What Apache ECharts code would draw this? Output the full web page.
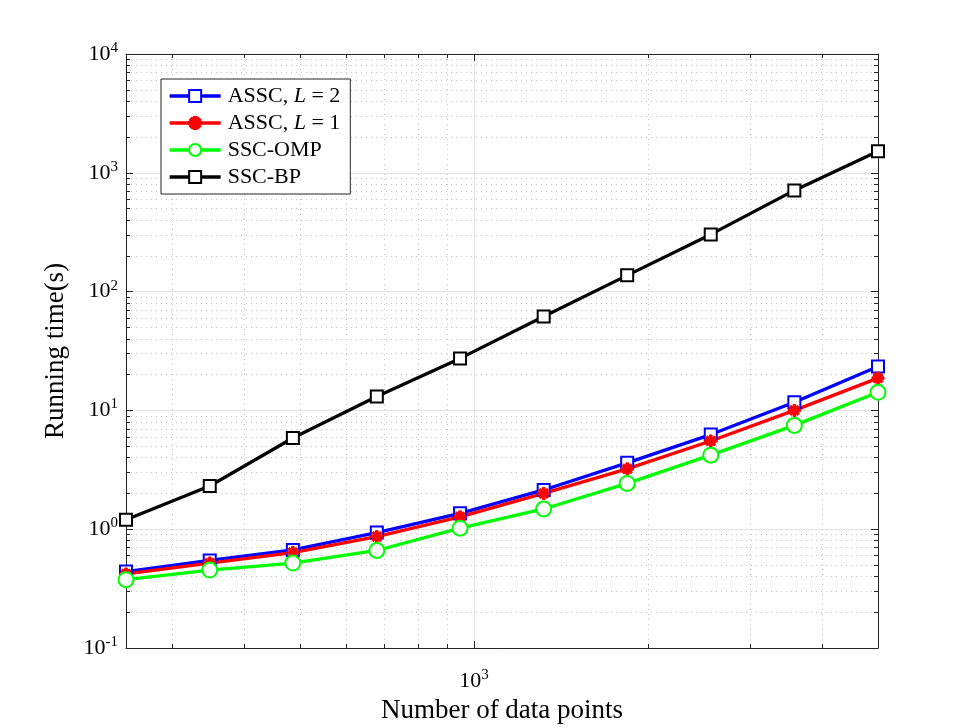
<!DOCTYPE html>
<html>
<head>
<meta charset="utf-8">
<script src="https://cdn.jsdelivr.net/npm/echarts@6/dist/echarts.min.js"></script>
<style>
  html, body { margin: 0; padding: 0; background: #fff; }
  #chart { width: 970px; height: 728px; }
</style>
</head>
<body>
<div id="chart"></div>
<script>
  const numPoints = [250, 349, 486, 679, 946, 1320, 1841, 2568, 3583, 5000];
  const asscL2 = [0.44, 0.546, 0.669, 0.937, 1.36, 2.14, 3.62, 6.26, 11.7, 23.4];
  const asscL1 = [0.42, 0.519, 0.636, 0.867, 1.27, 2.0, 3.22, 5.53, 10.0, 18.7];
  const sscOmp = [0.376, 0.453, 0.519, 0.662, 1.02, 1.48, 2.43, 4.2, 7.48, 14.2];
  const sscBp = [1.2, 2.31, 5.86, 13.1, 27.4, 61.6, 137, 303, 711, 1521];
  const seriesNames = ['ASSC, L = 2', 'ASSC, L = 1', 'SSC-OMP', 'SSC-BP'];

  const FONT = 'Liberation Serif';
  const AXIS_COLOR = '#262626';

  // 8-armed asterisk, like matlab's '*' marker
  const ASTERISK = 'path://M0 3.9L10 3.9L10 6.1L0 6.1Z M3.9 0L6.1 0L6.1 10L3.9 10Z ' +
    'M2.28 0.72L9.28 7.72L7.72 9.28L0.72 2.28Z M9.28 2.28L2.28 9.28L0.72 7.72L7.72 0.72Z';

  const pairs = ys => numPoints.map((x, i) => [x, ys[i]]);

  // 10^n as base + superscript
  const powLabel = v => {
    const e = Math.log10(v);
    if (Math.abs(e - Math.round(e)) > 1e-6) return '';
    return '{b|10}{s|' + Math.round(e) + '}';
  };
  const powRich = {
    b: { fontFamily: FONT, fontSize: 22, color: '#000' },
    s: { fontFamily: FONT, fontSize: 15, color: '#000', padding: [0, 0, 12, 0] }
  };

  const logAxis = (extra) => Object.assign({
    type: 'log',
    logBase: 10,
    axisLine: { show: true, onZero: false, lineStyle: { color: AXIS_COLOR, width: 1 } },
    axisTick: { show: true, inside: true, length: 7, lineStyle: { color: AXIS_COLOR } },
    minorTick: { show: true, splitNumber: 9, length: 4, lineStyle: { color: AXIS_COLOR } },
    splitLine: { show: true, lineStyle: { color: '#e4e4e4', width: 1 } },
    minorSplitLine: { show: true, lineStyle: { color: '#c4c4c4', width: 1, type: [1, 4] } },
    axisLabel: { show: true, formatter: powLabel, rich: powRich, color: '#000' }
  }, extra);

  const mirror = (base) => Object.assign({}, base, {
    splitLine: { show: false },
    minorSplitLine: { show: false },
    axisLabel: { show: false },
    name: ''
  });

  const xMain = logAxis({
    min: 250, max: 5000, position: 'bottom',
    name: 'Number of data points',
    nameLocation: 'middle',
    nameGap: 42,
    nameTextStyle: { fontFamily: FONT, fontSize: 27, color: '#000' },
    axisLabel: { show: true, formatter: powLabel, rich: powRich, color: '#000', margin: 20 }
  });
  const yMain = logAxis({
    min: 0.1, max: 10000, position: 'left',
    name: 'Running time(s)',
    nameLocation: 'middle',
    nameGap: 57,
    nameTextStyle: { fontFamily: FONT, fontSize: 27, color: '#000' },
    axisLabel: { show: true, formatter: powLabel, rich: powRich, color: '#000', margin: 8 }
  });

  const mkSeries = (name, ys, color, symbol, size, bw) => ({
    name: name,
    type: 'line',
    data: pairs(ys),
    symbol: symbol,
    symbolSize: size,
    clip: false,
    lineStyle: { color: color, width: 3.3 },
    itemStyle: { color: color, borderColor: color, borderWidth: bw },
    emphasis: { disabled: true },
    animation: false
  });

  const chart = echarts.init(document.getElementById('chart'));
  chart.setOption({
    backgroundColor: '#fff',
    animation: false,
    grid: { left: 126, top: 54, width: 752, height: 594, containLabel: false, outerBoundsMode: 'none' },
    legend: {
      orient: 'vertical',
      left: 161,
      top: 79,
      padding: [6, 10, 6, 7],
      itemGap: 5,
      itemWidth: 51,
      itemHeight: 15,
      backgroundColor: '#fff',
      borderColor: AXIS_COLOR,
      borderWidth: 1,
      borderRadius: 0,
      lineStyle: { width: 3.3 },
      data: seriesNames,
      formatter: n => n.replace('L =', '{i|L} ='),
      textStyle: {
        fontFamily: FONT, fontSize: 22, color: '#000', lineHeight: 21, padding: [0, 0, 0, 2],
        rich: { i: { fontFamily: FONT, fontSize: 22, fontStyle: 'italic', color: '#000', lineHeight: 21 } }
      }
    },
    xAxis: [xMain, mirror(Object.assign({}, xMain, { position: 'top' }))],
    yAxis: [yMain, mirror(Object.assign({}, yMain, { position: 'right' }))],
    series: [
      mkSeries(seriesNames[0], asscL2, '#0000ff', 'emptyRect', 12, 2.7),
      mkSeries(seriesNames[1], asscL1, '#ff0000', ASTERISK, 12, 1),
      mkSeries(seriesNames[2], sscOmp, '#00ff00', 'emptyCircle', 15, 2.7),
      mkSeries(seriesNames[3], sscBp, '#000000', 'emptyRect', 12, 2.7)
    ]
  });
</script>
</body>
</html>
